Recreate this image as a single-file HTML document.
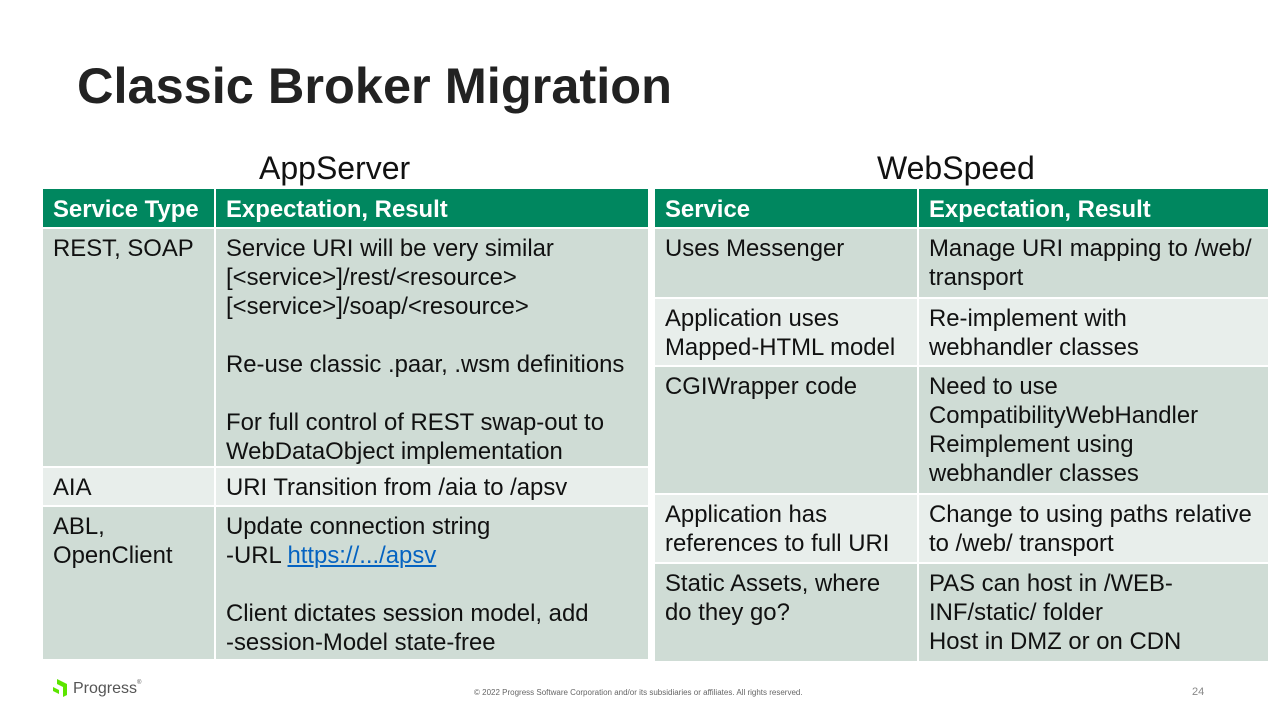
<!DOCTYPE html>
<html><head><style>
body{margin:0;width:1280px;height:720px;background:#fff;position:relative;overflow:hidden;font-family:"Liberation Sans",Arial,sans-serif;color:#111}
.a{position:absolute}
.c{position:absolute;box-sizing:border-box;padding:5px 10px 0 10px;font-size:23.9px;line-height:29px;white-space:nowrap}
.h{background:#00875f;color:#fff;font-weight:bold;padding-top:6px}
.d{background:#cfdcd5}
.l{background:#e8eeeb}
a{color:#0563c1;text-decoration:underline}
</style></head><body>
<div class="a" style="left:77px;top:56px;font-size:50.5px;font-weight:bold;color:#222">Classic Broker Migration</div>
<div class="a" style="left:259px;top:150px;font-size:32px">AppServer</div>
<div class="a" style="left:877px;top:150px;font-size:32px">WebSpeed</div>

<div class="c h" style="left:43px;top:189px;width:171px;height:38px">Service Type</div>
<div class="c h" style="left:216px;top:189px;width:432px;height:38px">Expectation, Result</div>
<div class="c d" style="left:43px;top:229px;width:171px;height:237px">REST, SOAP</div>
<div class="c d" style="left:216px;top:229px;width:432px;height:237px">Service URI will be very similar<br>[&lt;service&gt;]/rest/&lt;resource&gt;<br>[&lt;service&gt;]/soap/&lt;resource&gt;<br><br>Re-use classic .paar, .wsm definitions<br><br>For full control of REST swap-out to<br>WebDataObject implementation</div>
<div class="c l" style="left:43px;top:468px;width:171px;height:37px">AIA</div>
<div class="c l" style="left:216px;top:468px;width:432px;height:37px">URI Transition from /aia to /apsv</div>
<div class="c d" style="left:43px;top:507px;width:171px;height:152px">ABL,<br>OpenClient</div>
<div class="c d" style="left:216px;top:507px;width:432px;height:152px">Update connection string<br>-URL <a>https://.../apsv</a><br><br>Client dictates session model, add<br>-session-Model state-free</div>

<div class="c h" style="left:655px;top:189px;width:262px;height:38px">Service</div>
<div class="c h" style="left:919px;top:189px;width:349px;height:38px">Expectation, Result</div>
<div class="c d" style="left:655px;top:229px;width:262px;height:68px">Uses Messenger</div>
<div class="c d" style="left:919px;top:229px;width:349px;height:68px">Manage URI mapping to /web/<br>transport</div>
<div class="c l" style="left:655px;top:299px;width:262px;height:66px">Application uses<br>Mapped-HTML model</div>
<div class="c l" style="left:919px;top:299px;width:349px;height:66px">Re-implement with<br>webhandler classes</div>
<div class="c d" style="left:655px;top:367px;width:262px;height:126px">CGIWrapper code</div>
<div class="c d" style="left:919px;top:367px;width:349px;height:126px">Need to use<br>CompatibilityWebHandler<br>Reimplement using<br>webhandler classes</div>
<div class="c l" style="left:655px;top:495px;width:262px;height:67px">Application has<br>references to full URI</div>
<div class="c l" style="left:919px;top:495px;width:349px;height:67px">Change to using paths relative<br>to /web/ transport</div>
<div class="c d" style="left:655px;top:564px;width:262px;height:97px">Static Assets, where<br>do they go?</div>
<div class="c d" style="left:919px;top:564px;width:349px;height:97px">PAS can host in /WEB-<br>INF/static/ folder<br>Host in DMZ or on CDN</div>

<svg class="a" style="left:52px;top:678px" width="20" height="20" viewBox="0 0 20 20"><path d="M5 1 L15 6 L15 17 L11 19 L11 9 L5 6Z" fill="#5ce500"/><path d="M1 9 L7 12 L7 16 L1 13Z" fill="#5ce500"/></svg>
<div class="a" style="left:73px;top:680px;font-size:16px;color:#555">Progress<span style="font-size:6px;vertical-align:top">®</span></div>
<div class="a" style="left:474px;top:688px;font-size:8px;color:#666">© 2022 Progress Software Corporation and/or its subsidiaries or affiliates. All rights reserved.</div>
<div class="a" style="left:1192px;top:686px;font-size:11px;color:#888">24</div>
</body></html>
